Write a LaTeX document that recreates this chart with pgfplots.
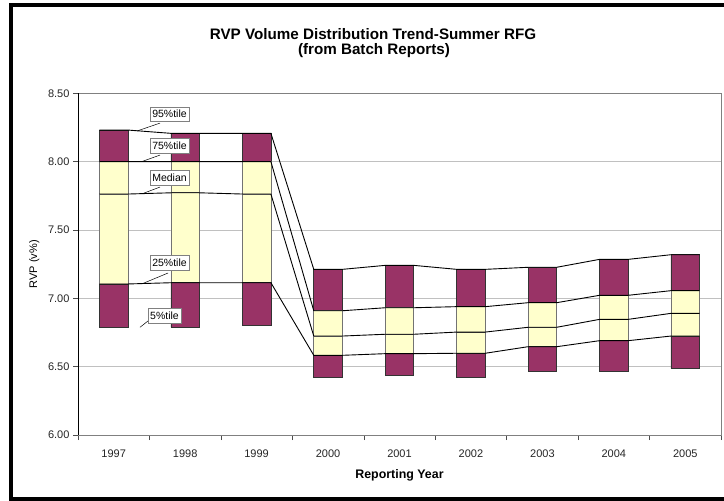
\documentclass[border=0pt]{standalone}
\usepackage{pgfplots}
\pgfplotsset{compat=1.18}
\usepackage{pgfplotstable}
\usepackage{fontspec}
\setmainfont{Liberation Sans}
\definecolor{plum}{HTML}{993366}
\definecolor{ivory}{HTML}{FFFFCC}
\definecolor{gridgray}{HTML}{C0C0C0}
\definecolor{boxgray}{HTML}{808080}

% percentiles per reporting year (x = 0 is 1997)
\pgfplotstableread{
x p5    p25   p50   p75   p95
0 6.788 7.105 7.763 8.000 8.231
1 6.788 7.114 7.772 8.000 8.207
2 6.800 7.114 7.763 8.000 8.207
3 6.422 6.583 6.724 6.909 7.212
4 6.434 6.595 6.737 6.931 7.241
5 6.422 6.598 6.753 6.939 7.212
6 6.463 6.646 6.788 6.968 7.227
7 6.463 6.690 6.846 7.022 7.285
8 6.488 6.724 6.890 7.056 7.319
}\rvp

% series lines: left and right edge of each bar
\pgfplotstableread{
x    p25   p50   p75   p95
-0.2 7.105 7.763 8.000 8.231
0.2  7.105 7.763 8.000 8.231
0.8  7.114 7.772 8.000 8.207
1.2  7.114 7.772 8.000 8.207
1.8  7.114 7.763 8.000 8.207
2.2  7.114 7.763 8.000 8.207
2.8  6.583 6.724 6.909 7.212
3.2  6.583 6.724 6.909 7.212
3.8  6.595 6.737 6.931 7.241
4.2  6.595 6.737 6.931 7.241
4.8  6.598 6.753 6.939 7.212
5.2  6.598 6.753 6.939 7.212
5.8  6.646 6.788 6.968 7.227
6.2  6.646 6.788 6.968 7.227
6.8  6.690 6.846 7.022 7.285
7.2  6.690 6.846 7.022 7.285
7.8  6.724 6.890 7.056 7.319
8.2  6.724 6.890 7.056 7.319
}\seriesln

\pgfplotsset{
  rvpbase/.style={
    at={(78bp,66bp)}, anchor=south west,
    scale only axis, width=643bp, height=341.7bp,
    xmin=-0.5, xmax=8.5, ymin=6, ymax=8.5,
  },
}
\tikzset{
  callout/.style={draw=boxgray, fill=white, font=\fontsize{10.5bp}{12bp}\selectfont,
    inner xsep=2.5bp, inner ysep=3.5bp},
}

\begin{document}
\begin{tikzpicture}
\useasboundingbox (0,0) rectangle (724bp,501bp);
\fill[white] (0,0) rectangle (724bp,501bp);
% outer frame
\fill[black] (9bp,0) rectangle (12.7bp,497.7bp);
\fill[black] (9bp,494.3bp) rectangle (724bp,497.7bp);
\fill[black] (9bp,0) rectangle (724bp,4bp);

% title
\node[anchor=base, font=\bfseries\fontsize{15.2bp}{18bp}\selectfont] at (373bp,461.7bp)
  {RVP Volume Distribution Trend-Summer RFG};
\node[anchor=base, font=\bfseries\fontsize{15.2bp}{18bp}\selectfont] at (374bp,446.7bp)
  {(from Batch Reports)};

\begin{axis}[
    rvpbase,
    ybar stacked,
    bar width=0.4,
    ytick={6,6.5,...,8.5},
    xtick={0,...,8},
    xticklabels={1997,1998,1999,2000,2001,2002,2003,2004,2005},
    minor xtick={-0.5,0.5,...,8.5},
    xtick pos=bottom, ytick pos=left,
    tick align=outside,
    major tick length=5bp, minor tick length=5bp,
    major x tick style={draw=none},
    every tick/.style={draw=black!70},
    minor x tick style={draw=black!70},
    ymajorgrids,
    grid style={draw=gridgray, line width=0.8bp},
    axis line style={draw=boxgray, line width=0.8bp},
    tick label style={font=\fontsize{11bp}{13bp}\selectfont, text=black!85},
    xticklabel style={yshift=-6bp},
    yticklabel style={/pgf/number format/.cd, fixed, fixed zerofill, precision=2, assume math mode=true},
    ylabel={RVP (v\%)},
    ylabel style={at={(axis description cs:-0.068,0.5)}, anchor=center,
      font=\fontsize{11bp}{13bp}\selectfont},
    xlabel={Reporting Year},
    xlabel style={at={(axis description cs:0.5,-0.117)}, anchor=center,
      font=\bfseries\fontsize{12.4bp}{14bp}\selectfont},
]
\addplot[draw=none, fill=none] table[x=x, y=p5] {\rvp};
\addplot[fill=plum, draw=black!80, line width=0.7bp] table[x=x, y expr=\thisrow{p25}-\thisrow{p5}] {\rvp};
\addplot[fill=ivory, draw=black!55, line width=0.7bp] table[x=x, y expr=\thisrow{p50}-\thisrow{p25}] {\rvp};
\addplot[fill=ivory, draw=black!55, line width=0.7bp] table[x=x, y expr=\thisrow{p75}-\thisrow{p50}] {\rvp};
\addplot[fill=plum, draw=black!80, line width=0.7bp] table[x=x, y expr=\thisrow{p95}-\thisrow{p75}] {\rvp};
\draw[black, line width=0.8bp] (rel axis cs:0,0) -- (rel axis cs:0,1);
\end{axis}

\begin{axis}[rvpbase, hide axis, clip=false]
\addplot[black, line width=0.9bp, no markers] table[x=x, y=p95] {\seriesln};
\addplot[black, line width=0.9bp, no markers] table[x=x, y=p75] {\seriesln};
\addplot[black, line width=0.9bp, no markers] table[x=x, y=p50] {\seriesln};
\addplot[black, line width=0.9bp, no markers] table[x=x, y=p25] {\seriesln};
% callout pointers and labels
\draw[black, line width=0.5bp] (axis cs:0.648,8.282) -- (axis cs:0.326,8.224);
\draw[black, line width=0.5bp] (axis cs:0.648,8.048) -- (axis cs:0.391,8.000);
\draw[black, line width=0.5bp] (axis cs:0.648,7.814) -- (axis cs:0.414,7.768);
\draw[black, line width=0.5bp] (axis cs:0.760,7.185) -- (axis cs:0.414,7.110);
\draw[black, line width=0.5bp] (axis cs:0.532,6.856) -- (axis cs:0.368,6.788);
\node[callout] at (axis cs:0.781,8.348) {95\%tile};
\node[callout] at (axis cs:0.781,8.118) {75\%tile};
\node[callout] at (axis cs:0.781,7.884) {Median};
\node[callout] at (axis cs:0.781,7.258) {25\%tile};
\node[callout] at (axis cs:0.711,6.871) {5\%tile};
\end{axis}
\end{tikzpicture}
\end{document}
